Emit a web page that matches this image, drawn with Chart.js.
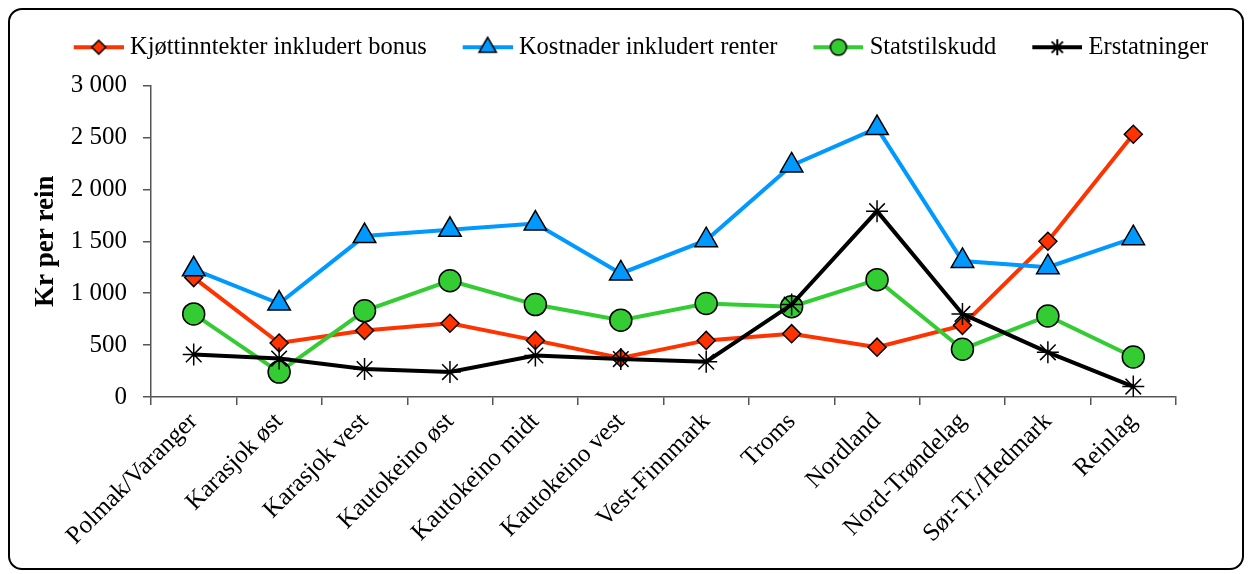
<!DOCTYPE html>
<html>
<head>
<meta charset="utf-8">
<script src="https://cdn.jsdelivr.net/npm/chart.js@4.4.0/dist/chart.umd.min.js"></script>
<style>
  body { margin: 0; background: #fff; }
  #box {
    position: absolute; left: 8px; top: 8px;
    width: 1236px; height: 562px;
    border: 2px solid #000; border-radius: 14px;
    box-sizing: border-box; overflow: hidden;
  }
  canvas { display: block; }
</style>
</head>
<body>
<div id="box"><canvas id="myChart" width="1232" height="558"></canvas></div>
<script>
// data
const categories = [
    'Polmak/Varanger', 'Karasjok øst', 'Karasjok vest', 'Kautokeino øst',
    'Kautokeino midt', 'Kautokeino vest', 'Vest-Finnmark', 'Troms',
    'Nordland', 'Nord-Trøndelag', 'Sør-Tr./Hedmark', 'Reinlag'
];
const kjottinntekter = [1150, 520, 640, 710, 545, 375, 545, 610, 480, 690, 1500, 2530];
const kostnader = [1230, 900, 1550, 1610, 1670, 1190, 1510, 2230, 2590, 1310, 1250, 1530];
const statstilskudd = [800, 240, 830, 1120, 890, 740, 900, 870, 1130, 460, 780, 385];
const erstatninger = [410, 370, 270, 240, 400, 365, 340, 890, 1790, 800, 430, 100];
const yTicks = [0, 500, 1000, 1500, 2000, 2500, 3000];

const serif = "'Liberation Serif', 'Times New Roman', serif";
const red = '#FF3300', blue = '#0099FF', green = '#33CC33', black = '#000000';

// small canvas with line + marker, used as legend symbol
function legendIcon(color, style, r) {
    const c = document.createElement('canvas');
    c.width = 68; c.height = 28;
    const ctx = c.getContext('2d');
    const cx = 43, cy = 14;
    ctx.strokeStyle = color;
    ctx.lineWidth = 4;
    ctx.beginPath(); ctx.moveTo(18, cy); ctx.lineTo(68, cy); ctx.stroke();
    ctx.fillStyle = color;
    ctx.strokeStyle = '#000';
    ctx.lineWidth = 1.5;
    ctx.beginPath();
    if (style === 'rectRot') {
        ctx.moveTo(cx, cy - r); ctx.lineTo(cx + r, cy); ctx.lineTo(cx, cy + r); ctx.lineTo(cx - r, cy); ctx.closePath();
        ctx.fill(); ctx.stroke();
    } else if (style === 'triangle') {
        ctx.moveTo(cx, cy - r);
        ctx.lineTo(cx + r * Math.sin(2 * Math.PI / 3), cy + r / 2);
        ctx.lineTo(cx - r * Math.sin(2 * Math.PI / 3), cy + r / 2);
        ctx.closePath();
        ctx.fill(); ctx.stroke();
    } else if (style === 'circle') {
        ctx.arc(cx, cy, r, 0, Math.PI * 2);
        ctx.fill(); ctx.stroke();
    } else {
        ctx.lineWidth = 2;
        for (let a = 0; a < 4; a++) {
            const ang = a * Math.PI / 4;
            ctx.moveTo(cx - Math.cos(ang) * r, cy - Math.sin(ang) * r);
            ctx.lineTo(cx + Math.cos(ang) * r, cy + Math.sin(ang) * r);
        }
        ctx.stroke();
    }
    return c;
}

const icons = [
    legendIcon(red, 'rectRot', 7),
    legendIcon(blue, 'triangle', 10),
    legendIcon(green, 'circle', 8),
    legendIcon(black, 'star', 8)
];

const data = {
    labels: categories,
    datasets: [{
        label: 'Kjøttinntekter inkludert bonus',
        data: kjottinntekter,
        borderColor: red, backgroundColor: red,
        borderWidth: 4,
        pointStyle: 'rectRot', pointRadius: 9,
        pointBackgroundColor: red, pointBorderColor: '#000', pointBorderWidth: 1.5,
        order: 4
    }, {
        label: 'Kostnader inkludert renter',
        data: kostnader,
        borderColor: blue, backgroundColor: blue,
        borderWidth: 4,
        pointStyle: 'triangle', pointRadius: 13,
        pointBackgroundColor: blue, pointBorderColor: '#000', pointBorderWidth: 1.5,
        order: 3
    }, {
        label: 'Statstilskudd',
        data: statstilskudd,
        borderColor: green, backgroundColor: green,
        borderWidth: 4,
        pointStyle: 'circle', pointRadius: 11,
        pointBackgroundColor: green, pointBorderColor: '#000', pointBorderWidth: 1.5,
        order: 2
    }, {
        label: 'Erstatninger',
        data: erstatninger,
        borderColor: black, backgroundColor: black,
        borderWidth: 4,
        pointStyle: 'star', pointRadius: 11,
        pointBorderColor: '#000', pointBorderWidth: 1.5,
        order: 1
    }]
};

// nudge the legend a bit to the right, like the original
const legendShift = {
    id: 'legendShift',
    afterLayout(chart) {
        if (chart.legend) {
            chart.legend.left += 9;
            chart.legend.right += 9;
        }
    }
};

const config = {
    type: 'line',
    data: data,
    plugins: [legendShift],
    options: {
        responsive: false,
        animation: false,
        layout: { padding: { top: 1, right: 0, left: 0, bottom: 0 } },
        elements: { line: { tension: 0 } },
        scales: {
            x: {
                offset: true,
                grid: { offset: true, drawOnChartArea: false, tickLength: 8, color: '#555', lineWidth: 1.5 },
                border: { color: '#555', width: 1.5 },
                ticks: {
                    autoSkip: false, maxRotation: 45, minRotation: 45, padding: 2,
                    color: '#000', font: { family: serif, size: 25 }
                },
                afterFit(scale) { scale.height = 171; }
            },
            y: {
                min: 0,
                max: 3000,
                afterBuildTicks(scale) { scale.ticks = yTicks.map(v => ({ value: v })); },
                grid: { drawOnChartArea: false, tickLength: 8, color: '#555', lineWidth: 1.5 },
                border: { color: '#555', width: 1.5 },
                ticks: {
                    padding: 16, color: '#000',
                    font: { family: serif, size: 25 },
                    callback: v => String(v).replace(/\B(?=(\d{3})+(?!\d))/g, ' ')
                },
                title: {
                    display: true, text: 'Kr per rein', color: '#000',
                    font: { family: serif, size: 27, weight: 'bold' },
                    padding: { top: 20, bottom: 0 }
                },
                afterFit(scale) { scale.width = 141; }
            },
            // empty right axis that only keeps space free on the right
            y2: {
                position: 'right',
                grid: { display: false },
                ticks: { display: false },
                border: { display: false },
                afterFit(scale) { scale.width = 66; }
            }
        },
        plugins: {
            tooltip: { enabled: false },
            subtitle: {
                display: true, text: '', weight: 500, padding: 0,
                font: { size: 16, lineHeight: 1 }
            },
            legend: {
                labels: {
                    usePointStyle: true,
                    pointStyleWidth: 56,
                    padding: 24,
                    color: '#000',
                    font: { family: serif, size: 24.5 },
                    generateLabels(chart) {
                        return chart.data.datasets.map((ds, i) => ({
                            text: ds.label,
                            pointStyle: icons[i],
                            datasetIndex: i,
                            fillStyle: ds.borderColor,
                            strokeStyle: ds.borderColor,
                            lineWidth: 0,
                            hidden: false,
                            fontColor: '#000'
                        }));
                    }
                }
            }
        }
    }
};

var myChart = new Chart(document.getElementById('myChart'), config);
</script>
</body>
</html>
